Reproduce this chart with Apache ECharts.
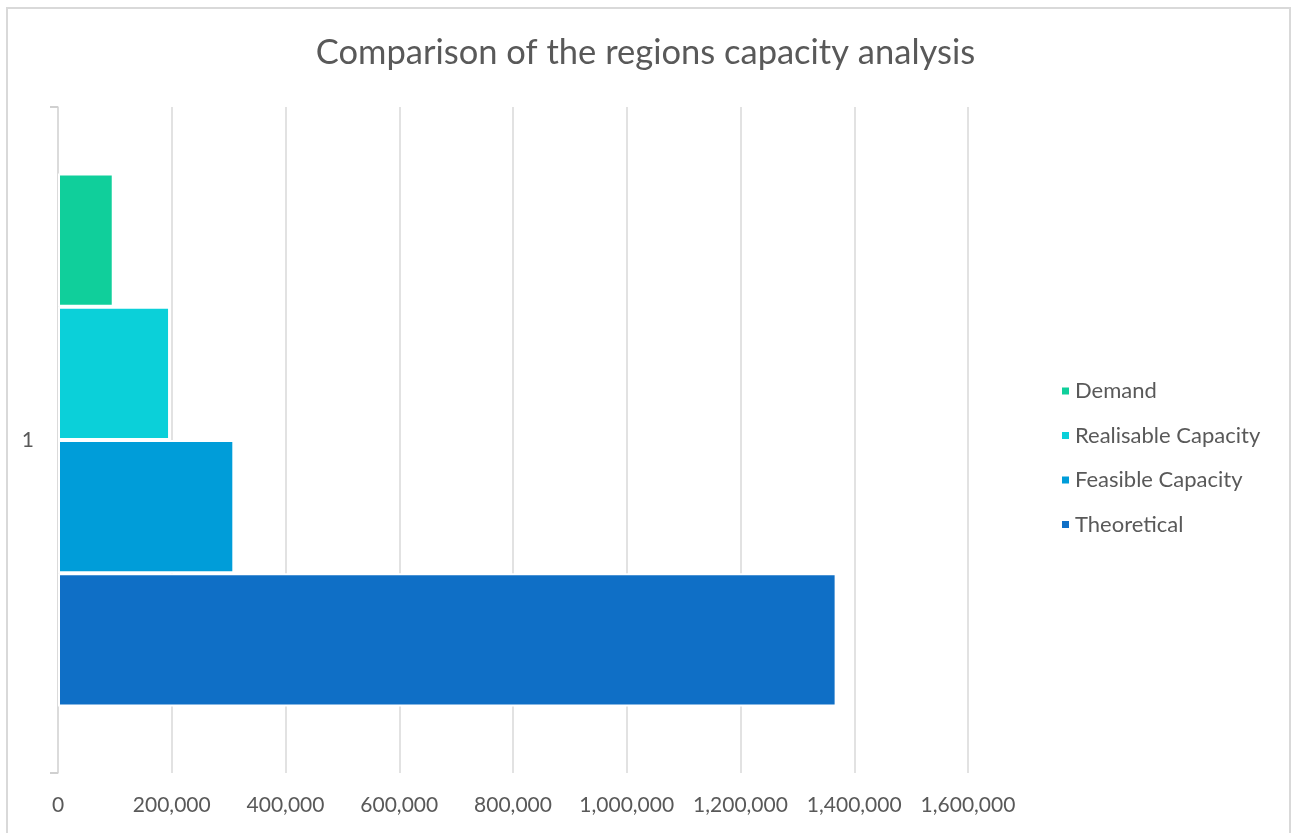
<!DOCTYPE html>
<html>
<head>
<meta charset="utf-8">
<title>Comparison of the regions capacity analysis</title>
<script src="https://cdn.jsdelivr.net/npm/echarts@6/dist/echarts.min.js"></script>
<style>
  html, body { margin: 0; padding: 0; background: #fff; }
  #chart { position: absolute; left: 0; top: 0; width: 1291px; height: 833px; }
  .frame { position: absolute; left: 6px; top: 7px; width: 1281px; height: 840px;
           border: 2px solid #d9d9d9; pointer-events: none; }
</style>
</head>
<body>
<div id="chart"></div>
<div class="frame"></div>
<script>
// chart data
const categories = ["1"];
const seriesNames = ["Demand", "Realisable Capacity", "Feasible Capacity", "Theoretical"];
const seriesValues = [
  [98000],    // Demand
  [197000],   // Realisable Capacity
  [310000],   // Feasible Capacity
  [1369000]   // Theoretical
];
const seriesColors = ["#10CF9B", "#0BD0D9", "#009DD9", "#0F6FC6"];

const font = "Lato, 'Open Sans', sans-serif";
const textColor = "#595959";

const myChart = echarts.init(document.getElementById("chart"));

const option = {
  animation: false,
  color: seriesColors,
  title: {
    text: "Comparison of the regions capacity analysis",
    left: "center",
    top: 30,
    textStyle: { fontFamily: font, fontSize: 34.5, fontWeight: "normal", color: textColor }
  },
  legend: {
    orient: "vertical",
    left: 1055,
    top: 375,
    itemWidth: 9,
    itemHeight: 9,
    itemGap: 22.5,
    icon: "rect",
    data: seriesNames,
    textStyle: { fontFamily: font, fontSize: 22, color: textColor }
  },
  grid: {
    left: 58,
    right: 323,
    top: 107,
    bottom: 60,
    containLabel: false
  },
  xAxis: {
    type: "value",
    min: 0,
    max: 1600000,
    interval: 200000,
    axisLine: { show: false },
    axisTick: { show: false },
    axisLabel: {
      margin: 22,
      fontFamily: font,
      fontSize: 21,
      color: textColor,
      formatter: (v) => v.toLocaleString("en-US")
    },
    splitLine: { lineStyle: { color: "#d9d9d9", width: 1.5 } }
  },
  yAxis: {
    type: "category",
    inverse: true,
    data: categories,
    axisLine: { lineStyle: { color: "#d9d9d9", width: 1.5 } },
    axisTick: { show: true, interval: 0, length: 8, lineStyle: { color: "#d0d0d0", width: 2 } },
    axisLabel: { margin: 24, fontFamily: font, fontSize: 21, color: textColor }
  },
  series: seriesNames.map((name, i) => ({
    name: name,
    type: "bar",
    data: seriesValues[i],
    barGap: "0%",
    barCategoryGap: "20%",
    itemStyle: { color: seriesColors[i], borderColor: "#fff", borderWidth: 2 }
  }))
};

myChart.setOption(option);
window.addEventListener("resize", function () {
  myChart.resize();
});
</script>
</body>
</html>
